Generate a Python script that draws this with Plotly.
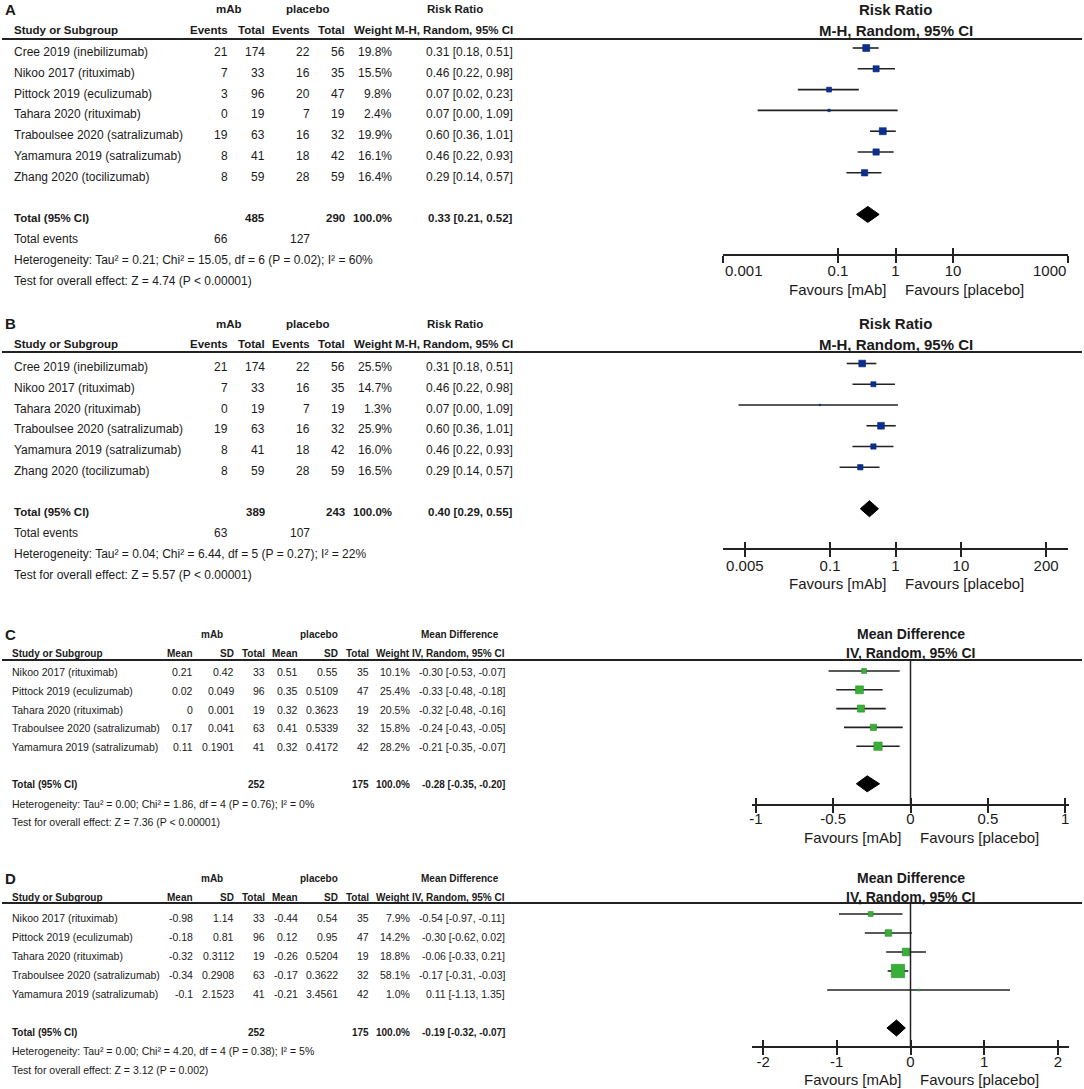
import math
import plotly.graph_objects as go

W, H = 1084, 1089
NARROW = "Liberation Sans, Arial, sans-serif"
ARIAL = "Liberation Sans, Arial, sans-serif"
TXT = "#1a1a1a"

# ---------------- DATA ----------------
# Panel A: Risk ratio (all studies)
A_study = ["Cree 2019 (inebilizumab)", "Nikoo 2017 (rituximab)", "Pittock 2019 (eculizumab)",
           "Tahara 2020 (rituximab)", "Traboulsee 2020 (satralizumab)", "Yamamura 2019 (satralizumab)",
           "Zhang 2020 (tocilizumab)"]
A_ev_mab = [21, 7, 3, 0, 19, 8, 8]
A_tot_mab = [174, 33, 96, 19, 63, 41, 59]
A_ev_pl = [22, 16, 20, 7, 16, 18, 28]
A_tot_pl = [56, 35, 47, 19, 32, 42, 59]
A_weight = [19.8, 15.5, 9.8, 2.4, 19.9, 16.1, 16.4]
A_est = [0.31, 0.46, 0.07, 0.07, 0.60, 0.46, 0.29]
A_lo = [0.18, 0.22, 0.02, 0.004, 0.36, 0.22, 0.14]
A_hi = [0.51, 0.98, 0.23, 1.09, 1.01, 0.93, 0.57]
A_pooled = [0.33, 0.21, 0.52]
A_het = dict(tau2=0.21, chi2=15.05, df=6, p=0.02, i2=60, z=4.74, pz="< 0.00001")
A_ticks = [0.001, 0.1, 1, 10, 1000]
A_ticklabels = ["0.001", "0.1", "1", "10", "1000"]

# Panel B: Risk ratio (without Pittock)
B_study = ["Cree 2019 (inebilizumab)", "Nikoo 2017 (rituximab)", "Tahara 2020 (rituximab)",
           "Traboulsee 2020 (satralizumab)", "Yamamura 2019 (satralizumab)", "Zhang 2020 (tocilizumab)"]
B_ev_mab = [21, 7, 0, 19, 8, 8]
B_tot_mab = [174, 33, 19, 63, 41, 59]
B_ev_pl = [22, 16, 7, 16, 18, 28]
B_tot_pl = [56, 35, 19, 32, 42, 59]
B_weight = [25.5, 14.7, 1.3, 25.9, 16.0, 16.5]
B_est = [0.31, 0.46, 0.07, 0.60, 0.46, 0.29]
B_lo = [0.18, 0.22, 0.004, 0.36, 0.22, 0.14]
B_hi = [0.51, 0.98, 1.09, 1.01, 0.93, 0.57]
B_pooled = [0.40, 0.29, 0.55]
B_het = dict(tau2=0.04, chi2=6.44, df=5, p=0.27, i2=22, z=5.57, pz="< 0.00001")
B_ticks = [0.005, 0.1, 1, 10, 200]
B_ticklabels = ["0.005", "0.1", "1", "10", "200"]

# Panel C: Mean difference
C_study = ["Nikoo 2017 (rituximab)", "Pittock 2019 (eculizumab)", "Tahara 2020 (rituximab)",
           "Traboulsee 2020 (satralizumab)", "Yamamura 2019 (satralizumab)"]
C_mean_mab = [0.21, 0.02, 0, 0.17, 0.11]
C_sd_mab = [0.42, 0.049, 0.001, 0.041, 0.1901]
C_tot_mab = [33, 96, 19, 63, 41]
C_mean_pl = [0.51, 0.35, 0.32, 0.41, 0.32]
C_sd_pl = [0.55, 0.5109, 0.3623, 0.5339, 0.4172]
C_tot_pl = [35, 47, 19, 32, 42]
C_weight = [10.1, 25.4, 20.5, 15.8, 28.2]
C_est = [-0.30, -0.33, -0.32, -0.24, -0.21]
C_lo = [-0.53, -0.48, -0.48, -0.43, -0.35]
C_hi = [-0.07, -0.18, -0.16, -0.05, -0.07]
C_pooled = [-0.28, -0.35, -0.20]
C_het = dict(tau2=0.00, chi2=1.86, df=4, p=0.76, i2=0, z=7.36, pz="< 0.00001")
C_ticks = [-1, -0.5, 0, 0.5, 1]
C_ticklabels = ["-1", "-0.5", "0", "0.5", "1"]

# Panel D: Mean difference
D_study = ["Nikoo 2017 (rituximab)", "Pittock 2019 (eculizumab)", "Tahara 2020 (rituximab)",
           "Traboulsee 2020 (satralizumab)", "Yamamura 2019 (satralizumab)"]
D_mean_mab = [-0.98, -0.18, -0.32, -0.34, -0.1]
D_sd_mab = [1.14, 0.81, 0.3112, 0.2908, 2.1523]
D_tot_mab = [33, 96, 19, 63, 41]
D_mean_pl = [-0.44, 0.12, -0.26, -0.17, -0.21]
D_sd_pl = [0.54, 0.95, 0.5204, 0.3622, 3.4561]
D_tot_pl = [35, 47, 19, 32, 42]
D_weight = [7.9, 14.2, 18.8, 58.1, 1.0]
D_est = [-0.54, -0.30, -0.06, -0.17, 0.11]
D_lo = [-0.97, -0.62, -0.33, -0.31, -1.13]
D_hi = [-0.11, 0.02, 0.21, -0.03, 1.35]
D_pooled = [-0.19, -0.32, -0.07]
D_het = dict(tau2=0.00, chi2=4.20, df=4, p=0.38, i2=5, z=3.12, pz="= 0.002")
D_ticks = [-2, -1, 0, 1, 2]
D_ticklabels = ["-2", "-1", "0", "1", "2"]

# ---------------- LAYOUT CONSTANTS ----------------
panels = [
    dict(letter="A", kind="RR", study=A_study, c1=A_ev_mab, c2=A_tot_mab, c4=A_ev_pl, c5=A_tot_pl,
         weight=A_weight, est=A_est, lo=A_lo, hi=A_hi, pooled=A_pooled, het=A_het,
         ticks=A_ticks, ticklabels=A_ticklabels, inward_ends=True, tlab=270, band=(0, 300), tls=-5, hup=1,
         mrow0=48, sp=20.8, dy=4, rule=39, axis=255, fav=289, xdom=(723, 1068), rng=[-3.0, 3.0],
         fs=12, hfs=15, msk=1.57, color="#0b2f8f", lcolor="#0a2a7a", title="Risk Ratio",
         sub="M-H, Random, 95% CI"),
    dict(letter="B", kind="RR", study=B_study, c1=B_ev_mab, c2=B_tot_mab, c4=B_ev_pl, c5=B_tot_pl,
         weight=B_weight, est=B_est, lo=B_lo, hi=B_hi, pooled=B_pooled, het=B_het,
         ticks=B_ticks, ticklabels=B_ticklabels, inward_ends=False, tlab=565, band=(300, 600), tls=-4, hup=2,
         mrow0=363.5, sp=20.75, dy=3.5, rule=352, axis=549, fav=583, xdom=(723, 1068), rng=[-2.635, 2.635],
         fs=12, hfs=15, msk=1.33, color="#0b2f8f", lcolor="#0a2a7a", title="Risk Ratio",
         sub="M-H, Random, 95% CI"),
    dict(letter="C", kind="MD", study=C_study, c1=C_mean_mab, c2=C_sd_mab, c3=C_tot_mab,
         c4=C_mean_pl, c5=C_sd_pl, c6=C_tot_pl,
         weight=C_weight, est=C_est, lo=C_lo, hi=C_hi, pooled=C_pooled, het=C_het,
         ticks=C_ticks, ticklabels=C_ticklabels, inward_ends=False, tlab=818, band=(600, 850), tls=-7, hup=0,
         mrow0=671, sp=18.8, dy=1, rule=660, axis=805, fav=837, xdom=(752, 1069), rng=[-1.025, 1.025],
         fs=10.5, hfs=14, msk=1.56, color="#38b038", lcolor="#2a8a2a", title="Mean Difference",
         sub="IV, Random, 95% CI"),
    dict(letter="D", kind="MD", study=D_study, c1=D_mean_mab, c2=D_sd_mab, c3=D_tot_mab,
         c4=D_mean_pl, c5=D_sd_pl, c6=D_tot_pl,
         weight=D_weight, est=D_est, lo=D_lo, hi=D_hi, pooled=D_pooled, het=D_het,
         ticks=D_ticks, ticklabels=D_ticklabels, inward_ends=False, tlab=1061, band=(850, 1089), tls=-6, hup=2,
         mrow0=914, sp=19.0, dy=4, rule=903, axis=1047, fav=1079, xdom=(752, 1069), rng=[-2.15, 2.15],
         fs=10.5, hfs=14, msk=1.75, color="#38b038", lcolor="#2a8a2a", title="Mean Difference",
         sub="IV, Random, 95% CI"),
]

# column right edges (px) for each table type
COLS_RR = dict(study=12, c1=230, c2=267, c4=312, c5=347, w=394, ci=515, g1=229, g2=307, g3=455)
COLS_MD = dict(study=10, c1=195, c2=236, c3=267, c4=300, c5=340, c6=371, w=412, ci=507,
               g1=212, g2=319, g3=460)

fig = go.Figure()
annotations = []
shapes = []
layout_axes = {}


def fmt_ci(e, l, h):
    return f"{e:.2f} [{l:.2f}, {h:.2f}]"


for k, p in enumerate(panels, start=1):
    sfx = "" if k == 1 else str(k)
    xname, yname = "x" + sfx, "y" + sfx
    xkey, ykey = "xaxis" + sfx, "yaxis" + sfx
    n = len(p["study"])
    rows = list(range(n))
    sp, mrow0 = p["sp"], p["mrow0"]
    top, bot = p["band"]
    is_log = p["kind"] == "RR"

    # y axis in row units over this panel's band
    layout_axes[ykey] = dict(domain=[1 - bot / H, 1 - top / H],
                             range=[(bot - mrow0) / sp, (top - mrow0) / sp],
                             visible=False, fixedrange=True, automargin=False, anchor=xname)

    # end tick labels aligned inward (as in the original): drawn as annotations at the end ticks
    ttext = list(p["ticklabels"])
    if p["inward_ends"]:
        for idx, anc in [(0, "left"), (-1, "right")]:
            tv = p["ticks"][idx]
            annotations.append(dict(x=math.log10(tv) if is_log else tv, xref=xname, y=1 - p["tlab"] / H,
                                    yref="paper", text=ttext[idx], showarrow=False, xanchor=anc,
                                    yanchor="middle", font=dict(family=ARIAL, size=15, color=TXT)))
            ttext[idx] = ""

    base_x = dict(domain=[p["xdom"][0] / W, p["xdom"][1] / W], anchor="free", position=1 - p["axis"] / H,
                  type="log" if is_log else "linear", range=p["rng"], tickmode="array",
                  tickvals=p["ticks"], ticktext=ttext, showgrid=False, zeroline=False,
                  fixedrange=True, automargin=False, ticklabeloverflow="allow")
    layout_axes[xkey] = dict(base_x, ticks="outside", ticklen=7, tickwidth=1.5, tickcolor="#222",
                             showline=True, linecolor="#222", linewidth=1.5, ticklabelstandoff=p["tls"],
                             tickfont=dict(family=ARIAL, size=15, color=TXT))
    ox = 4 + k
    layout_axes["xaxis" + str(ox)] = dict(base_x, overlaying=xname, ticks="inside", ticklen=7,
                                          tickwidth=1.5, tickcolor="#222", showline=False,
                                          showticklabels=False)
    fig.add_trace(go.Scatter(x=[p["pooled"][0]], y=[n + 1], xaxis="x" + str(ox), yaxis=yname,
                             mode="markers", marker=dict(opacity=0), hoverinfo="skip"))

    # CI lines
    lx, ly = [], []
    for i in rows:
        lx += [p["lo"][i], p["hi"][i], None]
        ly += [i, i, None]
    fig.add_trace(go.Scatter(x=lx, y=ly, xaxis=xname, yaxis=yname, mode="lines",
                             line=dict(color="#222", width=1.6), hoverinfo="skip"))
    # study squares (area proportional to weight)
    fig.add_trace(go.Scatter(x=p["est"], y=rows, xaxis=xname, yaxis=yname, mode="markers",
                             marker=dict(symbol="square", size=[p["msk"] * math.sqrt(w) for w in p["weight"]],
                                         color=p["color"], opacity=1,
                                         line=dict(color=p["lcolor"], width=0.6)),
                             hoverinfo="skip"))
    # pooled diamond
    e, l, h = p["pooled"]
    tr = n + 1
    hh = 8 / sp
    fig.add_trace(go.Scatter(x=[l, e, h, e, l], y=[tr, tr - hh, tr, tr + hh, tr], xaxis=xname, yaxis=yname,
                             mode="lines", fill="toself", fillcolor="#000", line=dict(color="#000", width=1),
                             hoverinfo="skip"))

    # null line and header rule
    shapes.append(dict(type="line", xref=xname, yref="paper", x0=0, x1=0,
                       y0=1 - p["rule"] / H, y1=1 - p["axis"] / H, line=dict(color="#222", width=1.5)))
    shapes.append(dict(type="line", xref="paper", yref="paper", x0=2 / W, x1=1082 / W,
                       y0=1 - p["rule"] / H, y1=1 - p["rule"] / H, line=dict(color="#222", width=2)))

    def T(xpx, row, text, anchor="right", bold=False, size=None, family=NARROW):
        ys = -p["dy"] + (p["hup"] if row < 0 else 0)
        annotations.append(dict(x=xpx / W, xref="paper", y=row, yref=yname, text=(f"<b>{text}</b>" if bold else text),
                                showarrow=False, xanchor=anchor, yanchor="middle", yshift=ys,
                                font=dict(family=family, size=size or p["fs"], color=TXT)))

    hs = p["fs"] - 0.5  # bold header size
    hdr = p["het"]
    if is_log:
        C = COLS_RR
        T(3, -2, p["letter"], anchor="left", bold=True, size=15, family=ARIAL)
        T(C["g1"], -2, "mAb", anchor="center", bold=True, size=hs)
        T(C["g2"], -2, "placebo", anchor="center", bold=True, size=hs)
        T(C["g3"], -2, p["title"], anchor="center", bold=True, size=hs)
        T(C["study"], -1, "Study or Subgroup", anchor="left", bold=True, size=hs)
        for key, lab in [("c1", "Events"), ("c2", "Total"), ("c4", "Events"), ("c5", "Total"),
                         ("w", "Weight"), ("ci", p["sub"])]:
            T(C[key], -1, lab, bold=True, size=hs)
        for i in rows:
            T(C["study"], i, p["study"][i], anchor="left")
            T(C["c1"], i, str(p["c1"][i]))
            T(C["c2"], i, str(p["c2"][i]))
            T(C["c4"], i, str(p["c4"][i]))
            T(C["c5"], i, str(p["c5"][i]))
            T(C["w"], i, f"{p['weight'][i]:.1f}%")
            T(C["ci"], i, fmt_ci(p["est"][i], p["lo"][i], p["hi"][i]))
        T(C["study"], tr, "Total (95% CI)", anchor="left", bold=True, size=hs)
        T(C["c2"], tr, str(sum(p["c2"])), bold=True, size=hs)
        T(C["c5"], tr, str(sum(p["c5"])), bold=True, size=hs)
        T(C["w"], tr, "100.0%", bold=True, size=hs)
        T(C["ci"], tr, fmt_ci(e, l, h), bold=True, size=hs)
        T(C["study"], tr + 1, "Total events", anchor="left")
        T(C["c1"], tr + 1, str(sum(p["c1"])))
        T(C["c4"], tr + 1, str(sum(p["c4"])))
        nxt = tr + 2
    else:
        C = COLS_MD
        T(3, -2, p["letter"], anchor="left", bold=True, size=15, family=ARIAL)
        T(C["g1"], -2, "mAb", anchor="center", bold=True, size=hs)
        T(C["g2"], -2, "placebo", anchor="center", bold=True, size=hs)
        T(C["g3"], -2, p["title"], anchor="center", bold=True, size=hs)
        T(C["study"], -1, "Study or Subgroup", anchor="left", bold=True, size=hs)
        for key, lab in [("c1", "Mean"), ("c2", "SD"), ("c3", "Total"), ("c4", "Mean"), ("c5", "SD"),
                         ("c6", "Total"), ("w", "Weight"), ("ci", p["sub"])]:
            T(C[key], -1, lab, bold=True, size=hs)
        for i in rows:
            T(C["study"], i, p["study"][i], anchor="left")
            T(C["c1"], i, f"{p['c1'][i]:g}")
            T(C["c2"], i, f"{p['c2'][i]:g}")
            T(C["c3"], i, str(p["c3"][i]))
            T(C["c4"], i, f"{p['c4'][i]:g}")
            T(C["c5"], i, f"{p['c5'][i]:g}")
            T(C["c6"], i, str(p["c6"][i]))
            T(C["w"], i, f"{p['weight'][i]:.1f}%")
            T(C["ci"], i, fmt_ci(p["est"][i], p["lo"][i], p["hi"][i]))
        T(C["study"], tr, "Total (95% CI)", anchor="left", bold=True, size=hs)
        T(C["c3"], tr, str(sum(p["c3"])), bold=True, size=hs)
        T(C["c6"], tr, str(sum(p["c6"])), bold=True, size=hs)
        T(C["w"], tr, "100.0%", bold=True, size=hs)
        T(C["ci"], tr, fmt_ci(e, l, h), bold=True, size=hs)
        nxt = tr + 1
    T(C["study"], nxt, f"Heterogeneity: Tau² = {hdr['tau2']:.2f}; Chi² = {hdr['chi2']:.2f}, df = {hdr['df']} "
                       f"(P = {hdr['p']:.2f}); I² = {hdr['i2']}%", anchor="left")
    T(C["study"], nxt + 1, f"Test for overall effect: Z = {hdr['z']:.2f} (P {hdr['pz']})", anchor="left")

    # forest-plot headers
    for row, text in [(-2, p["title"]), (-1, p["sub"])]:
        annotations.append(dict(x=0, xref=xname, y=row, yref=yname, text=f"<b>{text}</b>", showarrow=False,
                                xanchor="center", yanchor="middle", yshift=-p["dy"] + p["hup"],
                                font=dict(family=ARIAL, size=p["hfs"], color=TXT)))
    # favours labels
    for txt, anc, xs in [("Favours [mAb]", "right", -7), ("Favours [placebo]", "left", 7)]:
        annotations.append(dict(x=0, xref=xname, y=1 - p["fav"] / H, yref="paper", text=txt, showarrow=False,
                                xanchor=anc, yanchor="middle", xshift=xs,
                                font=dict(family=ARIAL, size=15, color=TXT)))

fig.update_layout(width=W, height=H, margin=dict(l=0, r=0, t=0, b=0, autoexpand=False), autosize=False,
                  paper_bgcolor="white", plot_bgcolor="white", showlegend=False,
                  annotations=annotations, shapes=shapes, **layout_axes)
fig.write_html("out.html", config={"displayModeBar": False},
               post_script="document.body.style.margin='0px';")
